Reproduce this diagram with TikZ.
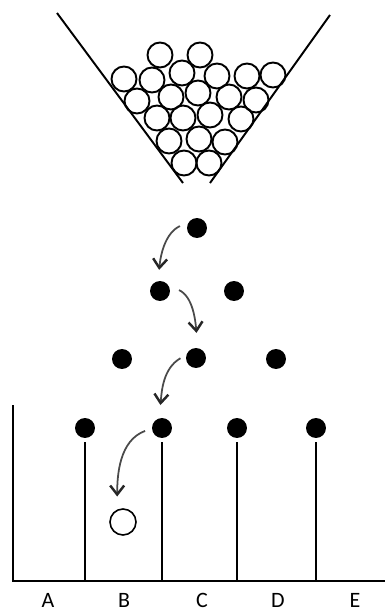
\documentclass[tikz,border=0pt]{standalone}
\usepackage{fontspec}
\newfontfamily\labelfont{Carlito}
\usetikzlibrary{arrows.meta}
\definecolor{cgray}{HTML}{4A4A4A}

\begin{document}
\begin{tikzpicture}[x=0.02cm,y=0.02cm,
    ball/.style={circle,draw,line width=1.1pt,minimum size=0.5cm,inner sep=0pt},
    peg/.style={circle,fill=black,minimum size=0.4cm,inner sep=0pt},
    post/.style={line width=1.1pt,shorten <=0.08cm},
    fall/.style={cgray,line width=1pt,-{Straight Barb[length=1.8mm,width=2.8mm,line width=1.4pt,color=black!85]}},
    bin/.style={font=\labelfont\fontsize{12.5}{14}\selectfont,inner sep=0pt,anchor=base}]
    \useasboundingbox (0,0) rectangle (385,610);
    % hopper walls
    \draw[line width=1.1pt] (57,597) -- (183,427);
    \draw[line width=1.1pt] (330,595) -- (210,427);
    % balls waiting in the hopper
    \foreach \x/\y [count=\i] in {160/555,200/555,
        124/531,152/530,182/537,217/534,247/534,273/535,
        137/509,171/513,198/517,229/513,256/510,
        157/492,183/492,210/495,241/491,
        169/469,199/471,225/468,
        184/447,209/447}
      \node[ball] (h\i) at (\x,\y) {};
    % pegs
    \node[peg] (p1)  at (197,382) {};
    \node[peg] (p21) at (160,319) {};
    \node[peg] (p22) at (234,319) {};
    \node[peg] (p31) at (122,251) {};
    \node[peg] (p32) at (196,252) {};
    \node[peg] (p33) at (276,251) {};
    \node[peg] (p41) at (85,182) {};
    \node[peg] (p42) at (162,182) {};
    \node[peg] (p43) at (237,182) {};
    \node[peg] (p44) at (316,182) {};
    % landed ball
    \node[ball,line width=0.9pt,minimum size=0.52cm] (b) at (123,88) {};
    % floor and bin walls
    \coordinate (floor) at (13,29);
    \draw[line width=1.7pt] (13,205) -- (floor) -- (385,29);
    \draw[post] (p41) -- (p41 |- floor);
    \draw[post,line width=1.6pt] (p42) -- (p42 |- floor);
    \draw[post] (p43) -- (p43 |- floor);
    \draw[post] (p44) -- (p44 |- floor);
    % bin labels
    \node[bin] (lA) at (48,3) {A};
    \node[bin] (lB) at (124,3) {B};
    \node[bin] (lC) at (202,3) {C};
    \node[bin] (lD) at (278,3) {D};
    \node[bin] (lE) at (355,3) {E};
    % path of the ball
    \draw[fall,shorten <=0.19cm,shorten >=0.22cm] (p1.145) to[out=205,in=85] (p21.100);
    \draw[fall,shorten <=0.23cm,shorten >=0.3cm] (p21.34) to[out=-25,in=95] (p32.80);
    \draw[fall,shorten <=0.13cm,shorten >=0.26cm] (p32.163) to[out=210,in=85] (p42.105);
    \draw[fall,shorten <=0.14cm,shorten >=0.26cm] (p42.183) to[out=200,in=90] (b.115);
\end{tikzpicture}
\end{document}
